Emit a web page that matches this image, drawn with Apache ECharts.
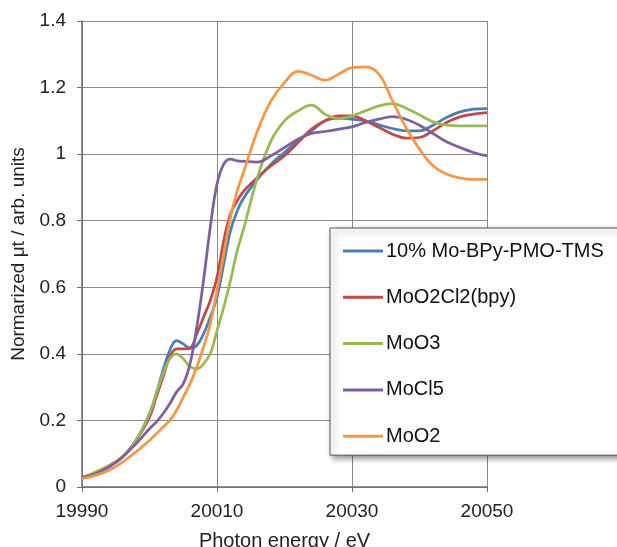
<!DOCTYPE html>
<html>
<head>
<meta charset="utf-8">
<script src="https://cdn.jsdelivr.net/npm/echarts@6/dist/echarts.min.js"></script>
<style>
  html, body { margin: 0; padding: 0; background: #fff; }
  #chart { width: 617px; height: 547px; }
</style>
</head>
<body>
<div id="chart"></div>
<script>
// photon energy (eV), shared by all spectra
const energy = [19990, 19992, 19994, 19996, 19998, 20000, 20001, 20002, 20003, 20004,
  20005, 20006, 20007, 20008, 20009, 20010, 20011, 20012, 20013, 20014,
  20016, 20018, 20020, 20022, 20024, 20026, 20028, 20030, 20032, 20034,
  20036, 20038, 20040, 20042, 20044, 20046, 20048, 20050]

const moBpyPmo = [0.028, 0.042, 0.062, 0.09, 0.14, 0.22, 0.28, 0.35, 0.41, 0.44,
  0.43, 0.417, 0.425, 0.46, 0.51, 0.57, 0.67, 0.77, 0.83, 0.87,
  0.925, 0.97, 1.005, 1.04, 1.07, 1.10, 1.108, 1.105, 1.10, 1.088,
  1.077, 1.07, 1.07, 1.087, 1.11, 1.127, 1.135, 1.137]

const moO2Cl2 = [0.028, 0.042, 0.062, 0.09, 0.14, 0.21, 0.27, 0.33, 0.39, 0.415,
  0.415, 0.417, 0.46, 0.51, 0.56, 0.63, 0.74, 0.82, 0.86, 0.89,
  0.93, 0.965, 0.995, 1.035, 1.075, 1.10, 1.115, 1.115, 1.10, 1.08,
  1.06, 1.048, 1.05, 1.07, 1.095, 1.112, 1.12, 1.125]

const moO3 = [0.028, 0.045, 0.065, 0.09, 0.14, 0.22, 0.28, 0.34, 0.385, 0.40,
  0.385, 0.362, 0.355, 0.37, 0.40, 0.47, 0.54, 0.62, 0.71, 0.78,
  0.93, 1.04, 1.10, 1.13, 1.147, 1.12, 1.107, 1.115, 1.13, 1.145,
  1.152, 1.138, 1.118, 1.097, 1.087, 1.085, 1.085, 1.085]

const moCl5 = [0.028, 0.04, 0.06, 0.09, 0.13, 0.175, 0.195, 0.22, 0.25, 0.285,
  0.31, 0.37, 0.48, 0.62, 0.78, 0.91, 0.97, 0.985, 0.98, 0.978,
  0.976, 0.995, 1.02, 1.045, 1.062, 1.068, 1.075, 1.082, 1.095, 1.105,
  1.113, 1.105, 1.087, 1.062, 1.037, 1.02, 1.005, 0.995]

const moO2 = [0.025, 0.035, 0.05, 0.075, 0.105, 0.14, 0.16, 0.18, 0.20, 0.23,
  0.27, 0.31, 0.36, 0.42, 0.49, 0.59, 0.70, 0.81, 0.89, 0.95,
  1.07, 1.16, 1.215, 1.249, 1.237, 1.222, 1.24, 1.26, 1.262, 1.24,
  1.16, 1.08, 1.015, 0.965, 0.94, 0.928, 0.924, 0.924]

const seriesNames = ['10% Mo-BPy-PMO-TMS', 'MoO2Cl2(bpy)', 'MoO3', 'MoCl5', 'MoO2']
const seriesValues = [moBpyPmo, moO2Cl2, moO3, moCl5, moO2]
const colors = ['#4a7ebb', '#be4b48', '#98b954', '#7d60a0', '#f79646']

const xTicks = [19990, 20010, 20030, 20050]
const yTicks = [0, 0.2, 0.4, 0.6, 0.8, 1, 1.2, 1.4]

// x axis runs relative to the first tick so the ticks land on 19990, 20010, ...
const x0 = xTicks[0]
const font = 'Liberation Sans, Arial, sans-serif'

const chart = echarts.init(document.getElementById('chart'))
chart.setOption({
  animation: false,
  color: colors,
  grid: { left: 82, right: 130, top: 21, bottom: 60, outerBoundsMode: 'none' },
  xAxis: {
    type: 'value',
    min: 0,
    max: xTicks[xTicks.length - 1] - x0,
    interval: xTicks[1] - xTicks[0],
    name: 'Photon energy / eV',
    nameLocation: 'middle',
    nameGap: 44,
    nameTextStyle: { fontFamily: font, fontSize: 20, color: '#222' },
    axisLine: { lineStyle: { color: '#6f6f6f', width: 1.5 } },
    axisTick: { show: true, length: 5, lineStyle: { color: '#6f6f6f' } },
    axisLabel: { margin: 15, fontFamily: font, fontSize: 19, color: '#222', formatter: v => String(v + x0) },
    splitLine: { show: true, lineStyle: { color: '#8a8a8a', width: 1 } }
  },
  yAxis: {
    type: 'value',
    min: yTicks[0],
    max: yTicks[yTicks.length - 1],
    interval: 0.2,
    name: 'Normarized μt / arb. units',
    nameLocation: 'middle',
    nameGap: 50,
    nameTextStyle: { fontFamily: font, fontSize: 19, color: '#222' },
    axisLine: { show: true, lineStyle: { color: '#6f6f6f', width: 1.5 } },
    axisTick: { show: true, length: 5, lineStyle: { color: '#6f6f6f' } },
    axisLabel: { margin: 16, fontFamily: font, fontSize: 19, color: '#222' },
    splitLine: { show: true, lineStyle: { color: '#8a8a8a', width: 1 } }
  },
  legend: {
    orient: 'vertical',
    left: 330,
    top: 228,
    padding: [13, 60, 9, 13],
    itemGap: 26.3,
    icon: 'rect',
    itemWidth: 40,
    itemHeight: 3,
    backgroundColor: '#fff',
    borderColor: '#555',
    borderWidth: 1,
    shadowBlur: 6,
    shadowOffsetX: 3,
    shadowOffsetY: 3,
    shadowColor: 'rgba(0,0,0,0.45)',
    textStyle: { fontFamily: font, fontSize: 20, color: '#111', padding: [0, 0, 0, -2] },
    data: seriesNames
  },
  series: seriesNames.map((name, i) => ({
    name,
    type: 'line',
    smooth: 0.4,
    symbol: 'none',
    lineStyle: { width: 2.75 },
    data: energy.map((e, j) => [e - x0, seriesValues[i][j]])
  }))
})
</script>
</body>
</html>
